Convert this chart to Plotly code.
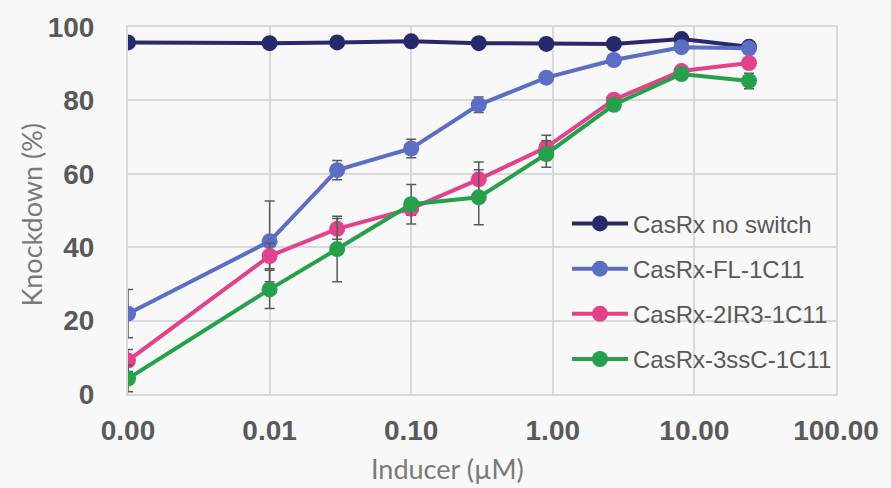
import plotly.graph_objects as go

# Inducer concentrations (µM); the untreated sample sits at the 0.001 position on the log axis
inducer = [0.001, 0.01, 0.03, 0.1, 0.3, 0.9, 2.7, 8.1, 24.3]

series_names = ["CasRx no switch", "CasRx-FL-1C11", "CasRx-2IR3-1C11", "CasRx-3ssC-1C11"]

no_switch = [95.8, 95.6, 95.8, 96.1, 95.6, 95.4, 95.4, 96.7, 94.6]
no_switch_err = [0.5, 0.5, 0.5, 0.5, 0.5, 0.5, 0.5, 0.5, 0.6]

fl_1c11 = [21.9, 41.6, 61.0, 66.9, 78.8, 86.2, 91.0, 94.5, 94.2]
fl_1c11_err = [6.6, 11.0, 2.6, 2.5, 2.1, 1.0, 1.0, 1.2, 1.0]

ir3_1c11 = [9.1, 37.6, 45.0, 50.5, 58.5, 67.2, 80.2, 88.0, 90.2]
ir3_1c11_err = [3.0, 3.5, 2.8, 1.8, 4.7, 3.3, 1.0, 1.3, 1.0]

ssc_1c11 = [4.2, 28.5, 39.5, 51.7, 53.6, 65.4, 78.8, 87.2, 85.3]
ssc_1c11_err = [3.6, 5.2, 8.9, 5.4, 7.5, 3.6, 1.0, 1.0, 2.1]

colors = ["#28286c", "#5b6ec4", "#e2418c", "#26a04a"]

x_tickvals = [0.001, 0.01, 0.1, 1, 10, 100]
x_ticktext = ["0.00", "0.01", "0.10", "1.00", "10.00", "100.00"]
y_tickvals = [0, 20, 40, 60, 80, 100]

fig = go.Figure()
for name, ys, errs, col in zip(
    series_names,
    [no_switch, fl_1c11, ir3_1c11, ssc_1c11],
    [no_switch_err, fl_1c11_err, ir3_1c11_err, ssc_1c11_err],
    colors,
):
    fig.add_trace(go.Scatter(
        x=inducer, y=ys, name=name, legendgroup=name, mode="lines+markers",
        line=dict(color=col, width=4),
        marker=dict(color=col, size=16),
        error_y=dict(type="data", array=errs, visible=True,
                     color="#595959", thickness=1.5, width=5),
    ))

grid = "#d9d9d9"
fig.update_layout(
    width=891, height=488,
    margin=dict(l=128, r=50, t=21, b=94),
    paper_bgcolor="#f8f8f8", plot_bgcolor="#f8f8f8",
    showlegend=True,
    legend=dict(x=0.62, y=0.525, xanchor="left", yanchor="top",
                bgcolor="rgba(0,0,0,0)", traceorder="grouped",
                font=dict(family="Liberation Sans", size=24, color="#595959"),
                itemwidth=56, tracegroupgap=11),
    xaxis=dict(type="log", range=[-3, 2], tickvals=x_tickvals, ticktext=x_ticktext,
               showgrid=True, gridcolor=grid, gridwidth=2,
               showline=True, linecolor=grid, linewidth=2, mirror=True,
               ticks="", ticklabelstandoff=10,
               tickfont=dict(family="Liberation Sans", size=28, color="#595959", weight="bold"),
               zeroline=False),
    yaxis=dict(range=[0, 100], tickvals=y_tickvals,
               showgrid=True, gridcolor=grid, gridwidth=2,
               showline=True, linecolor=grid, linewidth=2, mirror=True,
               ticks="", ticklabelstandoff=26,
               tickfont=dict(family="Liberation Sans", size=28, color="#595959", weight="bold"),
               zeroline=False),
    annotations=[
        dict(text="Inducer (µM)", x=450, y=470, xref="paper", yref="paper",
             xanchor="center", yanchor="middle",
             showarrow=False, font=dict(family="Lato", size=27, color="#7a7a7a")),
        dict(text="Knockdown (%)", x=31, y=212, xref="paper", yref="paper",
             xanchor="center", yanchor="middle",
             showarrow=False, textangle=-90,
             font=dict(family="Lato", size=27, color="#7a7a7a")),
    ],
)

# Convert the title positions from pixels to paper fractions of the plot area
pw, ph = 891 - 128 - 50, 488 - 21 - 94
for ann in fig.layout.annotations:
    ann.x = (ann.x - 128) / pw
    ann.y = (488 - 94 - ann.y) / ph

fig.write_html("out.html")
